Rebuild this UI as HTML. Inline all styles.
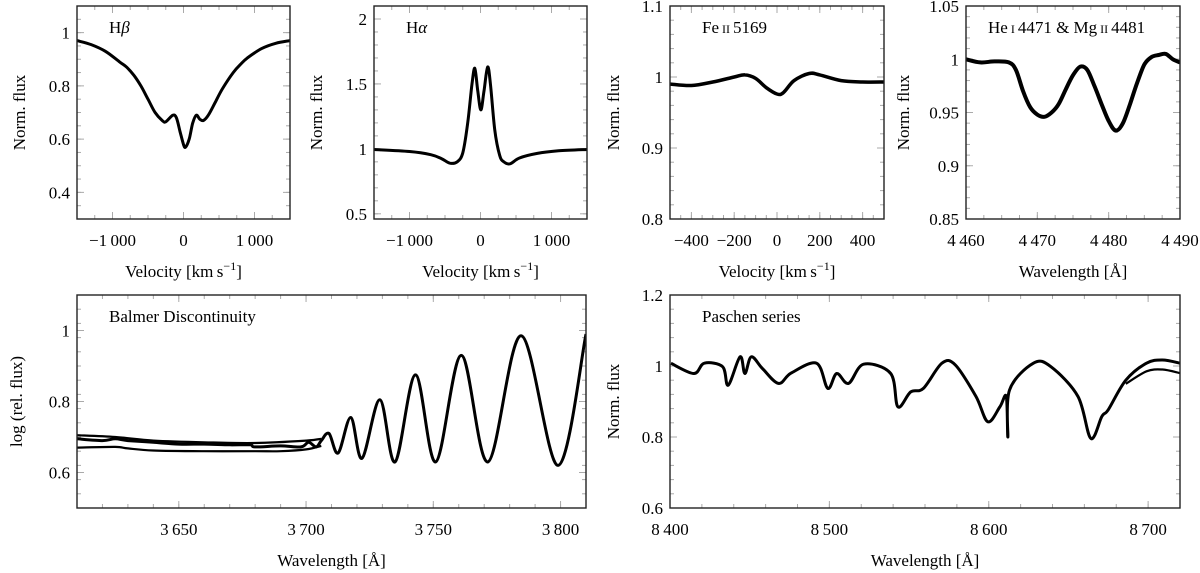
<!DOCTYPE html>
<html><head><meta charset="utf-8">
<style>
html,body{margin:0;padding:0;background:#fff;}
svg{display:block;}
svg text{font-family:"Liberation Serif","DejaVu Serif","Times New Roman",serif;}
</style></head>
<body>
<svg id="fig" width="1200" height="573" viewBox="0 0 1200 573" xmlns="http://www.w3.org/2000/svg"></svg>
<script>
// ---- data ----
const hbVel = [-1500,-1300,-1100,-900,-800,-700,-600,-500,-400,-300,-250,-150,-100,-50,0,30,80,130,180,230,280,350,450,550,700,800,900,1100,1300,1500];
const hbFlux = [0.97,0.955,0.93,0.89,0.87,0.84,0.80,0.75,0.70,0.67,0.665,0.69,0.68,0.63,0.58,0.57,0.60,0.66,0.69,0.675,0.67,0.69,0.74,0.79,0.85,0.88,0.905,0.94,0.96,0.97];
const haVel = [-1500,-1000,-700,-550,-430,-330,-250,-180,-120,-80,-40,5,50,100,140,200,270,330,415,550,800,1100,1500];
const haFlux = [0.995,0.98,0.955,0.925,0.89,0.9,0.97,1.2,1.5,1.62,1.45,1.3,1.45,1.63,1.5,1.15,0.95,0.9,0.885,0.93,0.965,0.985,0.995];
const feVel = [-500,-400,-300,-200,-150,-100,-50,0,30,80,150,200,300,400,500];
const feFlux = [0.99,0.988,0.993,1.0,1.003,0.998,0.985,0.976,0.978,0.995,1.005,1.003,0.995,0.993,0.993];
const heWave = [4460,4462,4464,4466,4467,4468,4469,4470,4471,4472,4473,4474,4475,4476,4477,4478,4479,4480,4481,4482,4483,4484,4485,4486,4487,4488,4489,4490];
const heFlux = [1.0,0.997,0.998,0.997,0.99,0.97,0.955,0.948,0.946,0.95,0.958,0.972,0.985,0.993,0.99,0.975,0.958,0.942,0.933,0.94,0.958,0.978,0.995,1.002,1.004,1.005,1.0,0.997];
const bdWave = [3610,3620,3625,3630,3640,3650,3660,3670,3678,3680,3690,3698,3701,3704,3706,3709,3712.6,3717.6,3722,3729,3735,3743,3751,3761,3771.5,3784.5,3799,3810];
const bdFlux = [0.695,0.69,0.695,0.69,0.685,0.68,0.68,0.678,0.678,0.672,0.675,0.672,0.685,0.672,0.69,0.71,0.655,0.755,0.64,0.805,0.63,0.875,0.63,0.93,0.63,0.985,0.62,0.99];
const bdLowWave = [3610,3625,3630,3640,3660,3680,3690,3700,3706];
const bdLowFlux = [0.67,0.672,0.668,0.662,0.66,0.66,0.66,0.665,0.675];
const bdHighWave = [3610,3625,3640,3660,3680,3700,3706];
const bdHighFlux = [0.705,0.7,0.69,0.685,0.683,0.69,0.695];
const paWave = [8400.6,8415,8421.5,8433,8436.5,8444,8447,8451,8458,8468,8476,8492,8499,8504.6,8512,8521.5,8538.5,8543,8551,8559,8570.6,8579,8592,8599.4,8607,8611,8612,8613,8628,8639,8656,8664,8671,8675,8686,8699,8709,8720];
const paFlux = [1.0075,0.979,1.008,0.998,0.946,1.026,0.979,1.026,0.993,0.951,0.98,1.008,0.937,0.979,0.951,1.005,0.979,0.885,0.927,0.937,1.008,1.003,0.914,0.843,0.885,0.914,0.80,0.932,1.008,0.998,0.914,0.796,0.858,0.877,0.96,1.008,1.017,1.008];
const paLowWave = [8686,8699,8709,8720];
const paLowFlux = [0.95,0.985,0.99,0.98];

// ---- drawing ----
const NS='http://www.w3.org/2000/svg';
const svg=document.getElementById('fig');
function el(tag,attrs,parent){const e=document.createElementNS(NS,tag);for(const k in attrs)e.setAttribute(k,attrs[k]);if(tag==='text')e.style.fontFamily='"Liberation Serif","DejaVu Serif",serif';(parent||svg).appendChild(e);return e;}
function fmt(v){let s=Math.abs(v)>=1000?String(Math.abs(v)).replace(/(\d)(\d{3})$/,'$1\u2009$2'):String(Math.abs(v));return (v<0?'\u2212':'')+s;}
function smoothPath(pts){let d='M'+pts[0][0].toFixed(1)+','+pts[0][1].toFixed(1);for(let i=0;i<pts.length-1;i++){const p0=pts[i-1]||pts[i],p1=pts[i],p2=pts[i+1],p3=pts[i+2]||p2;const t=6;const c1=[p1[0]+(p2[0]-p0[0])/t,p1[1]+(p2[1]-p0[1])/t],c2=[p2[0]-(p3[0]-p1[0])/t,p2[1]-(p3[1]-p1[1])/t];d+=' C'+c1[0].toFixed(1)+','+c1[1].toFixed(1)+' '+c2[0].toFixed(1)+','+c2[1].toFixed(1)+' '+p2[0].toFixed(1)+','+p2[1].toFixed(1);}return d;}

function panel(cfg){
  const g=el('g',{});
  
  
  const {x0,x1,y0,y1,xmin,xmax,ymin,ymax}=cfg;
  const sx=v=>x0+(v-xmin)/(xmax-xmin)*(x1-x0);
  const sy=v=>y1-(v-ymin)/(ymax-ymin)*(y1-y0);
  const tg=el('g',{stroke:'#aaa','stroke-width':1},g);
  for(let v=cfg.xminor[0];v<=xmax+1e-9;v+=cfg.xminor[1]){const X=sx(v);if(X<x0||X>x1)continue;el('line',{x1:X,y1:y1,x2:X,y2:y1-4},tg);el('line',{x1:X,y1:y0,x2:X,y2:y0+4},tg);}
  for(let v=cfg.yminor[0];v<=ymax+1e-9;v+=cfg.yminor[1]){const Y=sy(v);if(Y<y0||Y>y1)continue;el('line',{x1:x0,y1:Y,x2:x0+4,y2:Y},tg);el('line',{x1:x1,y1:Y,x2:x1-4,y2:Y},tg);}
  cfg.xticks.forEach(v=>{const X=sx(v);el('line',{x1:X,y1:y1,x2:X,y2:y1-7},tg);el('line',{x1:X,y1:y0,x2:X,y2:y0+7},tg);
    const t=el('text',{x:X,y:y1+27,'text-anchor':'middle','font-size':17,fill:'#000'},g);t.textContent=fmt(v);
    });
  cfg.yticks.forEach(v=>{const Y=sy(v);el('line',{x1:x0,y1:Y,x2:x0+7,y2:Y},tg);el('line',{x1:x1,y1:Y,x2:x1-7,y2:Y},tg);
    const t=el('text',{x:x0-7,y:Y+6,'text-anchor':'end','font-size':17,fill:'#000'},g);t.textContent=String(v);
    });
  el('clipPath',{id:'c'+cfg.name},g).appendChild(el('rect',{x:x0,y:y0,width:x1-x0,height:y1-y0},g));
  cfg.series.forEach((s,i)=>{const pts=s[0].map((v,j)=>[sx(v),sy(s[1][j])]);
    const p=el('path',{d:smoothPath(pts),fill:'none',stroke:'#000','stroke-width':s[2]||2.6,'stroke-linejoin':'round','clip-path':'url(#c'+cfg.name+')'},g);
    });
  const fr=el('rect',{x:x0,y:y0,width:x1-x0,height:y1-y0,fill:'none',stroke:'#222','stroke-width':1.4},g);
  
  const ti=el('text',{x:x0+cfg.tx,y:y0+27,'font-size':17,fill:'#000'},g);ti.innerHTML=cfg.title;
  
  const xl=el('text',{x:(x0+x1)/2,y:y1+58,'text-anchor':'middle','font-size':17,fill:'#000'},g);xl.innerHTML=cfg.xlabel;
  
  const yl=el('text',{x:0,y:0,'text-anchor':'middle','font-size':17,fill:'#000',transform:'translate('+cfg.ylx+','+(y0+y1)/2+') rotate(-90)'},g);yl.textContent=cfg.ylabel;
  
}
const vel='Velocity [km\u2009s<tspan dy="-7" font-size="12">\u22121</tspan><tspan dy="7">]</tspan>';
const wav='Wavelength [Å]';
panel({name:'h-beta-panel',x0:77,x1:290,y0:6,y1:219,xmin:-1500,xmax:1500,ymin:0.3,ymax:1.1,xticks:[-1000,0,1000],xminor:[-1500,250],yticks:[0.4,0.6,0.8,1],yminor:[0.3,0.05],series:[[hbVel,hbFlux,3]],title:'H<tspan font-style="italic">β</tspan>',tx:32,xlabel:vel,ylabel:'Norm. flux',ylx:25});
panel({name:'h-alpha-panel',x0:374,x1:587,y0:6,y1:219,xmin:-1500,xmax:1500,ymin:0.46,ymax:2.1,xticks:[-1000,0,1000],xminor:[-1500,250],yticks:[0.5,1,1.5,2],yminor:[0.5,0.1],series:[[haVel,haFlux,3]],title:'H<tspan font-style="italic">α</tspan>',tx:32,xlabel:vel,ylabel:'Norm. flux',ylx:322});
panel({name:'fe-ii-panel',x0:670,x1:884,y0:6,y1:219,xmin:-500,xmax:500,ymin:0.8,ymax:1.1,xticks:[-400,-200,0,200,400],xminor:[-500,50],yticks:[0.8,0.9,1,1.1],yminor:[0.8,0.02],series:[[feVel,feFlux,3.5]],title:'Fe<tspan font-size="12"> II </tspan>5169',tx:32,xlabel:vel,ylabel:'Norm. flux',ylx:619});
panel({name:'he-mg-panel',x0:966,x1:1180,y0:6,y1:219,xmin:4460,xmax:4490,ymin:0.85,ymax:1.05,xticks:[4460,4470,4480,4490],xminor:[4460,2.5],yticks:[0.85,0.9,0.95,1,1.05],yminor:[0.85,0.01],series:[[heWave,heFlux,4]],title:'He<tspan font-size="12"> I </tspan>4471 &amp; Mg<tspan font-size="12"> II </tspan>4481',tx:22,xlabel:wav,ylabel:'Norm. flux',ylx:909});
panel({name:'balmer-panel',x0:77,x1:586,y0:295,y1:508,xmin:3610,xmax:3810,ymin:0.5,ymax:1.1,xticks:[3650,3700,3750,3800],xminor:[3610,10],yticks:[0.6,0.8,1],yminor:[0.5,0.04],series:[[bdWave,bdFlux,3],[bdLowWave,bdLowFlux,2.2],[bdHighWave,bdHighFlux,2.2]],title:'Balmer Discontinuity',tx:32,xlabel:wav,ylabel:'log (rel. flux)',ylx:22});
panel({name:'paschen-panel',x0:670,x1:1180,y0:295,y1:508,xmin:8400,xmax:8720,ymin:0.6,ymax:1.2,xticks:[8400,8500,8600,8700],xminor:[8400,20],yticks:[0.6,0.8,1,1.2],yminor:[0.6,0.04],series:[[paWave,paFlux,3],[paLowWave,paLowFlux,2.2]],title:'Paschen series',tx:32,xlabel:wav,ylabel:'Norm. flux',ylx:619});
</script>
</body></html>
